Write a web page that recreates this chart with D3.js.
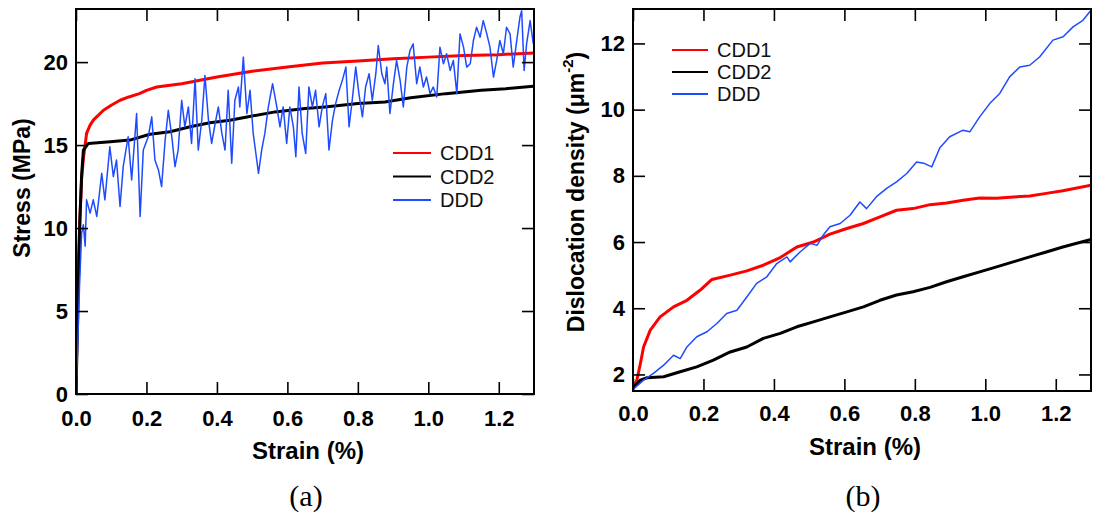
<!DOCTYPE html>
<html>
<head>
<meta charset="utf-8">
<script src="https://cdn.jsdelivr.net/npm/d3@7"></script>
<style>
  body { margin: 0; background: #fff; }
  svg { display: block; }
  .tk text { font-family: "Liberation Sans", Arial, sans-serif; font-weight: bold; font-size: 22px; fill: #000; }
  .tk line { stroke: #000; stroke-width: 1.6px; }
  .title { font-family: "Liberation Sans", Arial, sans-serif; font-weight: bold; font-size: 23px; fill: #000; }
  .xtitle { font-size: 24px; }
  .leg { font-family: "Liberation Sans", Arial, sans-serif; font-size: 20px; fill: #111; }
  .cap { font-family: "Liberation Serif", "Times New Roman", serif; font-size: 30px; fill: #000; }
</style>
</head>
<body>
<svg id="fig" width="1093" height="520"></svg>
<script>
// series names and colours
var seriesNames = ['CDD1', 'CDD2', 'DDD']
var seriesColors = ['#ff0000', '#000000', '#1f4bff']

// ticks
var strainTicks = [0, 0.2, 0.4, 0.6, 0.8, 1.0, 1.2]
var stressTicks = [0, 5, 10, 15, 20]
var densityTicks = [2, 4, 6, 8, 10, 12]

// (a) stress vs strain, [strain %, MPa]
var cdd1Stress = [[0,0],[0.005,7],[0.011,10.5],[0.016,13],[0.021,14.2],[0.03,15.7],[0.04,16.2],[0.049,16.5],
  [0.078,17.1],[0.1,17.4],[0.125,17.7],[0.15,17.9],[0.18,18.1],[0.2,18.3],[0.229,18.5],[0.3,18.7],[0.4,19.1],
  [0.5,19.45],[0.6,19.7],[0.7,19.95],[0.8,20.06],[0.9,20.2],[1.0,20.3],[1.1,20.4],[1.2,20.45],[1.3,20.55]]

var cdd2Stress = [[0,0],[0.005,5],[0.011,10.5],[0.016,13.2],[0.021,14.7],[0.035,15.1],[0.097,15.2],[0.153,15.3],
  [0.21,15.65],[0.267,15.8],[0.324,16.1],[0.38,16.35],[0.437,16.5],[0.5,16.75],[0.565,17.0],[0.65,17.2],
  [0.707,17.3],[0.8,17.5],[0.877,17.6],[0.95,17.85],[1.05,18.1],[1.15,18.3],[1.22,18.4],[1.298,18.55]]

var dddStress = [[0,0],[0.005,3],[0.01,6.5],[0.016,9.7],[0.021,10.2],[0.026,8.9],[0.03,11.7],[0.04,10.9],
  [0.049,11.7],[0.059,10.7],[0.073,13.3],[0.082,11.7],[0.096,14.9],[0.106,13.1],[0.115,14.1],[0.125,11.3],
  [0.134,13.7],[0.148,15.5],[0.158,12.9],[0.172,16.9],[0.182,10.7],[0.191,14.7],[0.205,15.5],[0.215,16.7],
  [0.224,14.1],[0.234,13.5],[0.243,12.5],[0.253,15.3],[0.262,17.1],[0.272,15.5],[0.281,13.7],[0.29,14.7],
  [0.3,17.7],[0.309,16.1],[0.319,17.3],[0.328,15.1],[0.338,19.0],[0.347,14.7],[0.357,16.5],[0.366,19.2],
  [0.376,16.5],[0.385,15.1],[0.395,16.3],[0.404,17.3],[0.414,15.7],[0.423,14.7],[0.432,18.3],[0.442,13.9],
  [0.451,17.7],[0.461,18.5],[0.465,17.3],[0.475,20.3],[0.485,16.9],[0.494,18.3],[0.503,15.7],[0.513,14.1],
  [0.518,13.3],[0.527,14.7],[0.536,15.7],[0.546,17.3],[0.558,18.7],[0.57,17.3],[0.579,16.1],[0.588,17.3],
  [0.598,15.1],[0.607,17.3],[0.617,16.1],[0.624,14.3],[0.633,18.5],[0.642,15.7],[0.652,14.5],[0.661,18.5],
  [0.671,17.3],[0.68,18.3],[0.69,16.1],[0.699,17.3],[0.709,18.1],[0.718,14.7],[0.728,16.5],[0.737,17.5],
  [0.747,18.3],[0.756,18.9],[0.766,19.7],[0.775,16.1],[0.784,17.7],[0.794,19.7],[0.803,18.1],[0.813,16.7],
  [0.822,18.5],[0.832,19.3],[0.841,17.7],[0.851,19.3],[0.858,21.0],[0.868,19.3],[0.877,18.7],[0.882,19.7],
  [0.891,16.9],[0.901,18.7],[0.91,20.1],[0.92,18.9],[0.929,17.3],[0.939,19.7],[0.948,20.7],[0.957,21.1],
  [0.967,18.7],[0.976,19.7],[0.986,18.5],[0.995,19.1],[1.005,18.1],[1.014,18.5],[1.024,17.9],[1.033,20.9],
  [1.043,19.9],[1.052,20.5],[1.062,19.5],[1.071,20.1],[1.081,18.1],[1.09,21.7],[1.1,20.9],[1.109,19.7],
  [1.119,19.9],[1.128,21.3],[1.137,22.1],[1.147,21.5],[1.156,22.5],[1.166,21.7],[1.175,20.9],[1.185,19.1],
  [1.194,20.1],[1.203,21.3],[1.213,20.5],[1.222,22.1],[1.232,21.7],[1.241,19.7],[1.251,21.3],[1.26,22.7],
  [1.265,23.1],[1.272,19.5],[1.279,21.1],[1.289,22.5],[1.298,21.1]]

// (b) dislocation density vs strain, [strain %, um^-2]
var cdd1Density = [[0,1.58],[0.011,1.83],[0.021,2.33],[0.03,2.83],[0.049,3.34],[0.077,3.74],[0.115,4.04],
  [0.153,4.24],[0.191,4.55],[0.224,4.87],[0.276,5.0],[0.323,5.13],[0.37,5.3],[0.418,5.53],[0.465,5.85],
  [0.512,6.0],[0.559,6.24],[0.607,6.41],[0.654,6.56],[0.701,6.76],[0.748,6.96],[0.795,7.01],[0.843,7.13],
  [0.89,7.18],[0.937,7.26],[0.984,7.33],[1.032,7.32],[1.079,7.36],[1.126,7.39],[1.173,7.47],[1.22,7.55],[1.3,7.72]]

var cdd2Density = [[0,1.58],[0.021,1.83],[0.04,1.9],[0.087,1.93],[0.134,2.08],[0.181,2.23],[0.228,2.43],
  [0.276,2.68],[0.323,2.83],[0.37,3.09],[0.418,3.24],[0.465,3.44],[0.512,3.59],[0.559,3.74],[0.607,3.89],
  [0.654,4.04],[0.701,4.24],[0.748,4.4],[0.795,4.5],[0.843,4.63],[0.89,4.8],[0.937,4.95],[0.984,5.1],
  [1.032,5.25],[1.079,5.4],[1.126,5.55],[1.173,5.7],[1.22,5.85],[1.3,6.08]]

var dddDensity = [[0,1.55],[0.03,1.83],[0.058,2.03],[0.087,2.28],[0.115,2.58],[0.134,2.48],[0.153,2.83],
  [0.181,3.14],[0.21,3.29],[0.238,3.54],[0.266,3.84],[0.295,3.94],[0.323,4.34],[0.351,4.75],[0.38,4.95],
  [0.408,5.35],[0.437,5.55],[0.446,5.4],[0.474,5.7],[0.503,5.96],[0.522,5.9],[0.54,6.21],[0.559,6.46],
  [0.588,6.56],[0.616,6.81],[0.644,7.21],[0.663,7.01],[0.691,7.37],[0.72,7.62],[0.748,7.82],[0.777,8.07],
  [0.805,8.42],[0.828,8.37],[0.848,8.27],[0.871,8.85],[0.899,9.18],[0.937,9.38],[0.956,9.33],[0.984,9.78],
  [1.013,10.19],[1.041,10.49],[1.069,10.99],[1.098,11.29],[1.126,11.34],[1.154,11.59],[1.192,12.1],
  [1.221,12.2],[1.249,12.5],[1.277,12.7],[1.3,13.0]]

var svg = d3.select('#fig')

function panel(opt) {
  var x = d3.scaleLinear().domain([0, 1.3]).range([opt.left, opt.right])
  var y = d3.scaleLinear().domain(opt.yDomain).range([opt.bottom, opt.top])
  var g = svg.append('g')

  var clipId = 'clip-' + opt.name
  svg.append('clipPath').attr('id', clipId)
    .append('rect').attr('x', opt.left).attr('y', opt.top)
    .attr('width', opt.right - opt.left).attr('height', opt.bottom - opt.top)

  var line = d3.line().x(function(d) { return x(d[0]) }).y(function(d) { return y(d[1]) })
  var lines = g.append('g').attr('clip-path', 'url(#' + clipId + ')')
  opt.series.forEach(function(s, i) {
    lines.append('path')
      .attr('d', line(s))
      .attr('fill', 'none')
      .attr('stroke', seriesColors[i])
      .attr('stroke-width', opt.widths[i])
      .attr('stroke-linejoin', 'round')
  })

  function axis(a, tr, pad, fmt) {
    var sel = g.append('g').attr('class', 'tk').attr('transform', tr)
      .call(a.tickSize(-12).tickPadding(pad).tickFormat(fmt))
    sel.select('.domain').remove()
    return sel
  }
  axis(d3.axisBottom(x).tickValues(strainTicks), 'translate(0,' + opt.bottom + ')', opt.xPad, d3.format('.1f'))
  axis(d3.axisTop(x).tickValues(strainTicks), 'translate(0,' + opt.top + ')', 0, function() { return '' })
  axis(d3.axisLeft(y).tickValues(opt.yTicks), 'translate(' + opt.left + ',0)', 8, d3.format('d'))
  axis(d3.axisRight(y).tickValues(opt.yTicks), 'translate(' + opt.right + ',0)', 0, function() { return '' })

  g.append('rect')
    .attr('x', opt.left).attr('y', opt.top)
    .attr('width', opt.right - opt.left).attr('height', opt.bottom - opt.top)
    .attr('fill', 'none').attr('stroke', '#000').attr('stroke-width', 2)

  g.append('text').attr('class', 'title xtitle')
    .attr('x', (opt.left + opt.right) / 2 + 3).attr('y', opt.xTitleY)
    .attr('text-anchor', 'middle').text('Strain (%)')

  var yt = g.append('text').attr('class', 'title')
    .attr('transform', 'translate(' + opt.yTitleX + ',' + opt.yTitleY + ') rotate(-90)')
    .attr('text-anchor', 'middle')
  opt.yTitle(yt)

  // legend
  var leg = g.append('g').attr('transform', 'translate(' + opt.legX + ',' + opt.legY + ')')
  seriesNames.forEach(function(n, i) {
    leg.append('line').attr('x1', 0).attr('x2', opt.legLen)
      .attr('y1', i * opt.legStep).attr('y2', i * opt.legStep)
      .attr('stroke', seriesColors[i]).attr('stroke-width', 2.2)
    leg.append('text').attr('class', 'leg')
      .attr('x', opt.legLen + 9).attr('y', i * opt.legStep + 7).text(n)
  })

  svg.append('text').attr('class', 'cap')
    .attr('x', (opt.left + opt.right) / 2 + 1).attr('y', 506)
    .attr('text-anchor', 'middle').text(opt.caption)
}

panel({
  name: 'a', left: 76, right: 534, top: 9, bottom: 394,
  yDomain: [0, 23.2], yTicks: stressTicks, xPad: 16,
  series: [cdd1Stress, cdd2Stress, dddStress], widths: [3, 3, 1.5],
  xTitleY: 459, yTitleX: 30, yTitleY: 188,
  yTitle: function(t) { t.text('Stress (MPa)') },
  legX: 393, legY: 153, legLen: 38, legStep: 23.5, caption: '(a)'
})

panel({
  name: 'b', left: 633, right: 1091, top: 9, bottom: 391,
  yDomain: [1.5, 13.04], yTicks: densityTicks, xPad: 14,
  series: [cdd1Density, cdd2Density, dddDensity], widths: [3, 3, 1.5],
  xTitleY: 455, yTitleX: 584, yTitleY: 192,
  yTitle: function(t) {
    t.append('tspan').text('Dislocation density (\u03bcm')
    t.append('tspan').attr('dy', -11).attr('font-size', 15).text('-2')
    t.append('tspan').attr('dy', 11).text(')')
  },
  legX: 672, legY: 50, legLen: 36, legStep: 22, caption: '(b)'
})
</script>
</body>
</html>
